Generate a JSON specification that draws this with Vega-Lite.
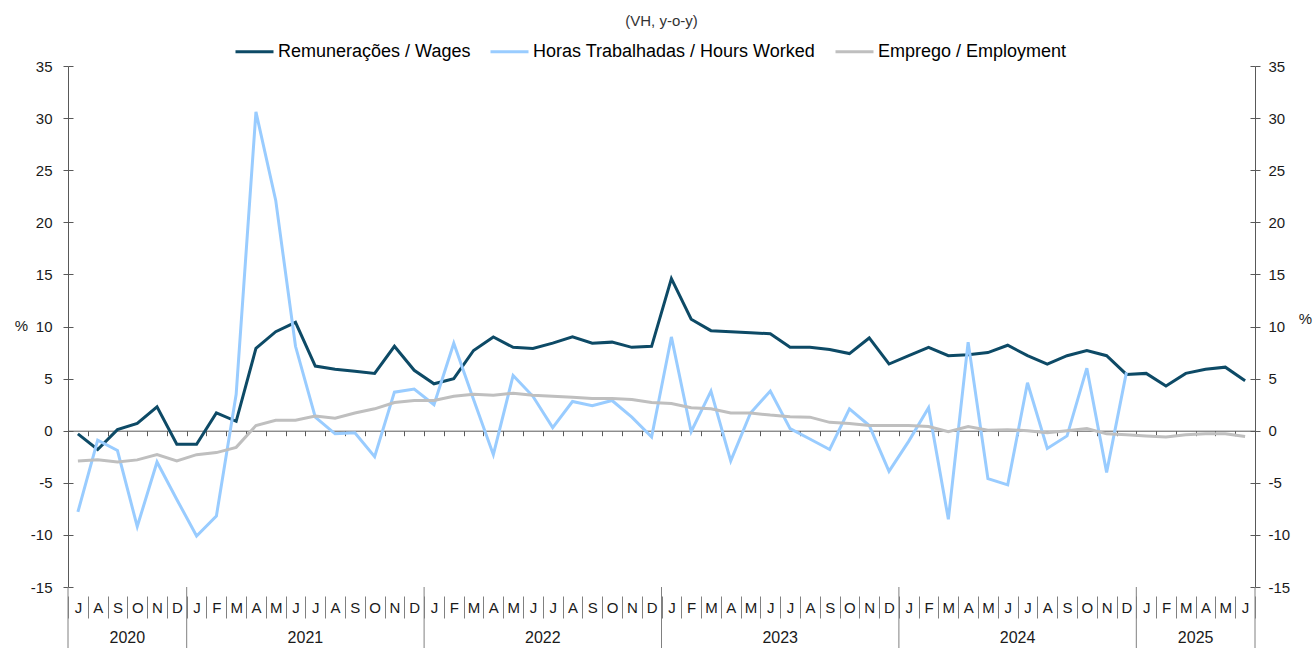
{
  "$schema": "https://vega.github.io/schema/vega-lite/v6.json",
  "width": 1187,
  "height": 521,
  "autosize": {"type": "none"},
  "padding": {"left": 68, "top": 66, "right": 58, "bottom": 61},
  "background": "white",
  "config": {
    "font": "Liberation Sans",
    "view": {"stroke": null},
    "axis": {"grid": false, "labelFont": "Liberation Sans", "titleFont": "Liberation Sans", "labelColor": "#1a1a1a", "titleColor": "#1a1a1a"},
    "legend": {"labelFont": "Liberation Sans"}
  },
  "title": {"text": "(VH, y-o-y)", "fontSize": 15, "fontWeight": "normal", "color": "#333333", "anchor": "middle", "offset": 2},
  "data": {"values": [
    {"date": "2020-07", "w": -0.3, "h": -7.8, "e": -2.9},
    {"date": "2020-08", "w": -1.8, "h": -0.9, "e": -2.8},
    {"date": "2020-09", "w": 0.1, "h": -1.9, "e": -3.0},
    {"date": "2020-10", "w": 0.7, "h": -9.2, "e": -2.8},
    {"date": "2020-11", "w": 2.3, "h": -3.0, "e": -2.3},
    {"date": "2020-12", "w": -1.3, "h": -6.6, "e": -2.9},
    {"date": "2021-01", "w": -1.3, "h": -10.1, "e": -2.3},
    {"date": "2021-02", "w": 1.7, "h": -8.2, "e": -2.1},
    {"date": "2021-03", "w": 0.9, "h": 3.5, "e": -1.6},
    {"date": "2021-04", "w": 7.9, "h": 30.6, "e": 0.5},
    {"date": "2021-05", "w": 9.5, "h": 22.1, "e": 1.0},
    {"date": "2021-06", "w": 10.4, "h": 8.1, "e": 1.0},
    {"date": "2021-07", "w": 6.2, "h": 1.3, "e": 1.4},
    {"date": "2021-08", "w": 5.9, "h": -0.3, "e": 1.2},
    {"date": "2021-09", "w": 5.7, "h": -0.2, "e": 1.7},
    {"date": "2021-10", "w": 5.5, "h": -2.5, "e": 2.1},
    {"date": "2021-11", "w": 8.1, "h": 3.7, "e": 2.7},
    {"date": "2021-12", "w": 5.8, "h": 4.0, "e": 2.9},
    {"date": "2022-01", "w": 4.5, "h": 2.5, "e": 2.9},
    {"date": "2022-02", "w": 5.0, "h": 8.4, "e": 3.3},
    {"date": "2022-03", "w": 7.7, "h": 3.0, "e": 3.5},
    {"date": "2022-04", "w": 9.0, "h": -2.3, "e": 3.4},
    {"date": "2022-05", "w": 8.0, "h": 5.3, "e": 3.6},
    {"date": "2022-06", "w": 7.9, "h": 3.3, "e": 3.4},
    {"date": "2022-07", "w": 8.4, "h": 0.3, "e": 3.3},
    {"date": "2022-08", "w": 9.0, "h": 2.8, "e": 3.2},
    {"date": "2022-09", "w": 8.4, "h": 2.4, "e": 3.1},
    {"date": "2022-10", "w": 8.5, "h": 2.9, "e": 3.1},
    {"date": "2022-11", "w": 8.0, "h": 1.3, "e": 3.0},
    {"date": "2022-12", "w": 8.1, "h": -0.6, "e": 2.7},
    {"date": "2023-01", "w": 14.6, "h": 9.0, "e": 2.6},
    {"date": "2023-02", "w": 10.7, "h": -0.1, "e": 2.2},
    {"date": "2023-03", "w": 9.6, "h": 3.8, "e": 2.1},
    {"date": "2023-04", "w": 9.5, "h": -2.9, "e": 1.7},
    {"date": "2023-05", "w": 9.4, "h": 1.7, "e": 1.7},
    {"date": "2023-06", "w": 9.3, "h": 3.8, "e": 1.5},
    {"date": "2023-07", "w": 8.0, "h": 0.2, "e": 1.35},
    {"date": "2023-08", "w": 8.0, "h": -0.8, "e": 1.3},
    {"date": "2023-09", "w": 7.8, "h": -1.8, "e": 0.8},
    {"date": "2023-10", "w": 7.4, "h": 2.1, "e": 0.7},
    {"date": "2023-11", "w": 8.9, "h": 0.5, "e": 0.5},
    {"date": "2023-12", "w": 6.4, "h": -3.9, "e": 0.5},
    {"date": "2024-01", "w": 7.2, "h": -1.0, "e": 0.5},
    {"date": "2024-02", "w": 8.0, "h": 2.2, "e": 0.4},
    {"date": "2024-03", "w": 7.2, "h": -8.5, "e": -0.1},
    {"date": "2024-04", "w": 7.3, "h": 8.5, "e": 0.4},
    {"date": "2024-05", "w": 7.5, "h": -4.6, "e": 0.05},
    {"date": "2024-06", "w": 8.2, "h": -5.2, "e": 0.1},
    {"date": "2024-07", "w": 7.2, "h": 4.6, "e": 0.0},
    {"date": "2024-08", "w": 6.4, "h": -1.7, "e": -0.2},
    {"date": "2024-09", "w": 7.2, "h": -0.5, "e": 0.0},
    {"date": "2024-10", "w": 7.7, "h": 6.0, "e": 0.2},
    {"date": "2024-11", "w": 7.2, "h": -4.0, "e": -0.3},
    {"date": "2024-12", "w": 5.4, "h": 5.6, "e": -0.4},
    {"date": "2025-01", "w": 5.5, "h": null, "e": -0.5},
    {"date": "2025-02", "w": 4.3, "h": null, "e": -0.6},
    {"date": "2025-03", "w": 5.5, "h": null, "e": -0.4},
    {"date": "2025-04", "w": 5.9, "h": null, "e": -0.3},
    {"date": "2025-05", "w": 6.1, "h": null, "e": -0.3},
    {"date": "2025-06", "w": 4.8, "h": null, "e": -0.55}
  ]},
  "layer": [
    {
      "transform": [{"fold": ["w", "h", "e"], "as": ["series", "value"]}],
      "mark": {"type": "line", "strokeWidth": 3, "strokeJoin": "miter"},
      "encoding": {
        "x": {
          "field": "date", "type": "ordinal", "sort": null,
          "scale": {"paddingInner": 0, "paddingOuter": 0},
          "axis": {
            "orient": "bottom", "title": null, "domain": false, "offset": 9,
            "ticks": true, "tickBand": "extent", "tickSize": 22, "tickColor": "#808080", "tickWidth": 1,
            "labelAngle": 0, "labelPadding": -18, "labelFontSize": 15,
            "labelExpr": "substring('JFMAMJJASOND', toNumber(substring(datum.value,5,7))-1, toNumber(substring(datum.value,5,7)))"
          }
        },
        "y": {
          "field": "value", "type": "quantitative",
          "scale": {"domain": [-15, 35], "nice": false, "zero": false},
          "axis": {
            "orient": "left", "values": [-15, -10, -5, 0, 5, 10, 15, 20, 25, 30, 35],
            "labelExpr": "'' + datum.value",
            "domainColor": "#595959", "tickColor": "#595959", "tickSize": 5, "labelPadding": 11, "labelFontSize": 15,
            "title": "%", "titleAngle": 0, "titleX": -47, "titleY": 259, "titleFontSize": 15, "titleFontWeight": "normal", "titleAlign": "center", "titleBaseline": "middle"
          }
        },
        "color": {
          "field": "series", "type": "nominal",
          "scale": {"domain": ["w", "h", "e"], "range": ["#0d4a66", "#99ccff", "#bfbfbf"]},
          "legend": {
            "orient": "none", "legendX": 166, "legendY": -35, "direction": "horizontal", "title": null,
            "symbolType": "stroke", "symbolStrokeWidth": 3, "symbolSize": 1444,
            "labelFontSize": 18, "labelOffset": 3, "labelLimit": 0, "columnPadding": 13,
            "labelExpr": "datum.label == 'w' ? 'Remunerações / Wages' : datum.label == 'h' ? 'Horas Trabalhadas / Hours Worked' : 'Emprego / Employment'"
          }
        }
      }
    },
    {
      "transform": [{"filter": "substring(datum.date,5,7) == '01'"}],
      "mark": {"type": "rule", "color": "#808080", "strokeWidth": 1},
      "encoding": {
        "x": {
          "field": "date", "type": "ordinal", "bandPosition": 0,
          "axis": {
            "orient": "bottom", "title": null, "domain": false, "ticks": false, "tickSize": 0,
            "values": ["2020-09", "2021-06", "2022-06", "2023-06", "2024-06", "2025-03"],
            "labelAngle": 0, "labelPadding": 42, "labelFontSize": 16, "labelOffset": 9.9,
            "labelExpr": "substring(datum.value,0,4)"
          }
        },
        "y": {
          "datum": -15, "type": "quantitative",
          "axis": {
            "orient": "right", "values": [-15, -10, -5, 0, 5, 10, 15, 20, 25, 30, 35],
            "labelExpr": "'' + datum.value",
            "domainColor": "#595959", "tickColor": "#595959", "tickSize": 5, "labelPadding": 8, "labelFontSize": 15,
            "title": "%", "titleAngle": 0, "titleX": 50, "titleY": 252, "titleFontSize": 15, "titleFontWeight": "normal", "titleAlign": "center", "titleBaseline": "middle"
          }
        },
        "y2": {"datum": -20.9}
      }
    },
    {
      "transform": [{"filter": "datum.date == '2020-07'"}],
      "mark": {"type": "rule", "color": "#808080", "strokeWidth": 1},
      "encoding": {
        "x": {"field": "date", "type": "ordinal", "bandPosition": 0, "axis": null},
        "y": {
          "datum": -15, "type": "quantitative",
          "axis": {
            "orient": "left", "values": [-15, -10, -5, 0, 5, 10, 15, 20, 25, 30, 35],
            "domain": false, "labels": false, "title": null, "tickColor": "#595959", "tickSize": -5
          }
        },
        "y2": {"datum": -20.9}
      }
    },
    {
      "transform": [{"filter": "datum.date == '2025-06'"}],
      "mark": {"type": "rule", "color": "#808080", "strokeWidth": 1},
      "encoding": {
        "x": {
          "field": "date", "type": "ordinal", "bandPosition": 1,
          "axis": {
            "orient": "bottom", "title": null, "domain": true, "domainColor": "#595959", "offset": -156.3,
            "ticks": true, "tickBand": "extent", "tickSize": 5, "tickColor": "#595959", "labels": false
          }
        },
        "y": {
          "datum": -15, "type": "quantitative",
          "axis": {
            "orient": "right", "values": [-15, -10, -5, 0, 5, 10, 15, 20, 25, 30, 35],
            "domain": false, "labels": false, "title": null, "tickColor": "#595959", "tickSize": -5
          }
        },
        "y2": {"datum": -20.9}
      }
    }
  ],
  "resolve": {"axis": {"x": "independent", "y": "independent"}}
}
